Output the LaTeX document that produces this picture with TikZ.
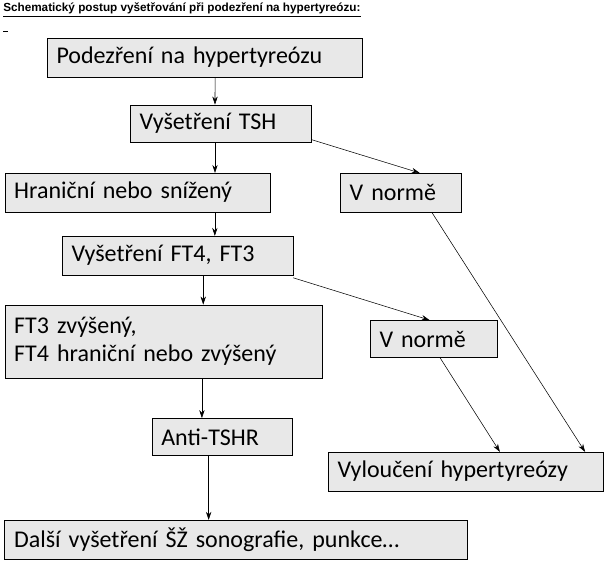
\documentclass[tikz,border=0pt]{standalone}
\usepackage{fontspec}
\setmainfont{Carlito}
\newfontfamily\titlefont{Liberation Sans}
\usetikzlibrary{arrows.meta}
\tikzset{
  box/.style={draw=black, fill=black!9, inner xsep=7pt, inner ysep=0pt, align=left, font=\fontsize{18}{21}\selectfont},
  link/.style={-{Stealth[length=6pt,width=4pt]}, thin}
}
\begin{document}
\begin{tikzpicture}[x=0.75pt,y=-0.75pt]
  \useasboundingbox (0,0) rectangle (611,567);

  \node[anchor=west, inner sep=0pt, font=\titlefont\bfseries\fontsize{8.8}{11}\selectfont] (title) at (3,10) {\underline{Schematický postup vyšetřování při podezření na hypertyreózu:}};
  \draw (3,31) -- (8,31);

  \node[box, text width=222pt, minimum height=29pt] (suspect) at (204.5,57.5) {Podezření na hypertyreózu};
  \node[box, text width=122pt, minimum height=28pt] (tsh) at (221,123.5) {Vyšetření TSH};
  \node[box, text width=185pt, minimum height=29pt] (low) at (137.5,192.5) {Hraniční nebo snížený};
  \node[box, text width=77pt, minimum height=29pt] (normA) at (401,192.5) {V normě};
  \node[box, text width=159pt, minimum height=29pt] (ft) at (177.5,255.5) {Vyšetření FT4, FT3};
  \node[box, text width=224pt, minimum height=55pt] (high) at (163.5,341.5) {FT3 zvýšený,\\FT4 hraniční nebo zvýšený};
  \node[box, text width=81pt, minimum height=28pt] (normB) at (433.5,339) {V normě};
  \node[box, text width=91pt, minimum height=28pt] (trab) at (222,437) {Anti-TSHR};
  \node[box, text width=192pt, minimum height=29pt] (exclude) at (465.5,471.5) {Vyloučení hypertyreózy};
  \node[box, text width=333pt, minimum height=29pt] (further) at (236,539.5) {Další vyšetření ŠŽ sonografie, punkce…};

  \draw[link] ([xshift=7.9pt]suspect.south) -- ([xshift=-4.5pt]tsh.south |- tsh.north);
  \draw[link] ([xshift=-4.5pt]tsh.south) -- ([xshift=-4.5pt]tsh.south |- low.north);
  \draw[link] ([yshift=2pt]tsh.south east) -- ([xshift=14pt]normA.north);
  \draw[link] ([xshift=58pt]low.south) -- ([xshift=58pt]low.south |- ft.north);
  \draw[link] ([xshift=106pt]ft.south west) -- ([xshift=106pt]ft.south west |- high.north);
  \draw[link] ([yshift=-2pt]ft.south east) -- ([xshift=-3pt]normB.north);
  \draw[link] ([xshift=148pt]high.south west) -- ([xshift=148pt]high.south west |- trab.north);
  \draw[link] ([xshift=-10pt]trab.south) -- ([xshift=-10pt]trab.south |- further.north);
  \draw[link] ([xshift=23pt]normA.south) -- ([xshift=-13.5pt]exclude.north east);
  \draw[link] ([xshift=5pt]normB.south) -- ([xshift=129pt]exclude.north west);
\end{tikzpicture}
\end{document}
